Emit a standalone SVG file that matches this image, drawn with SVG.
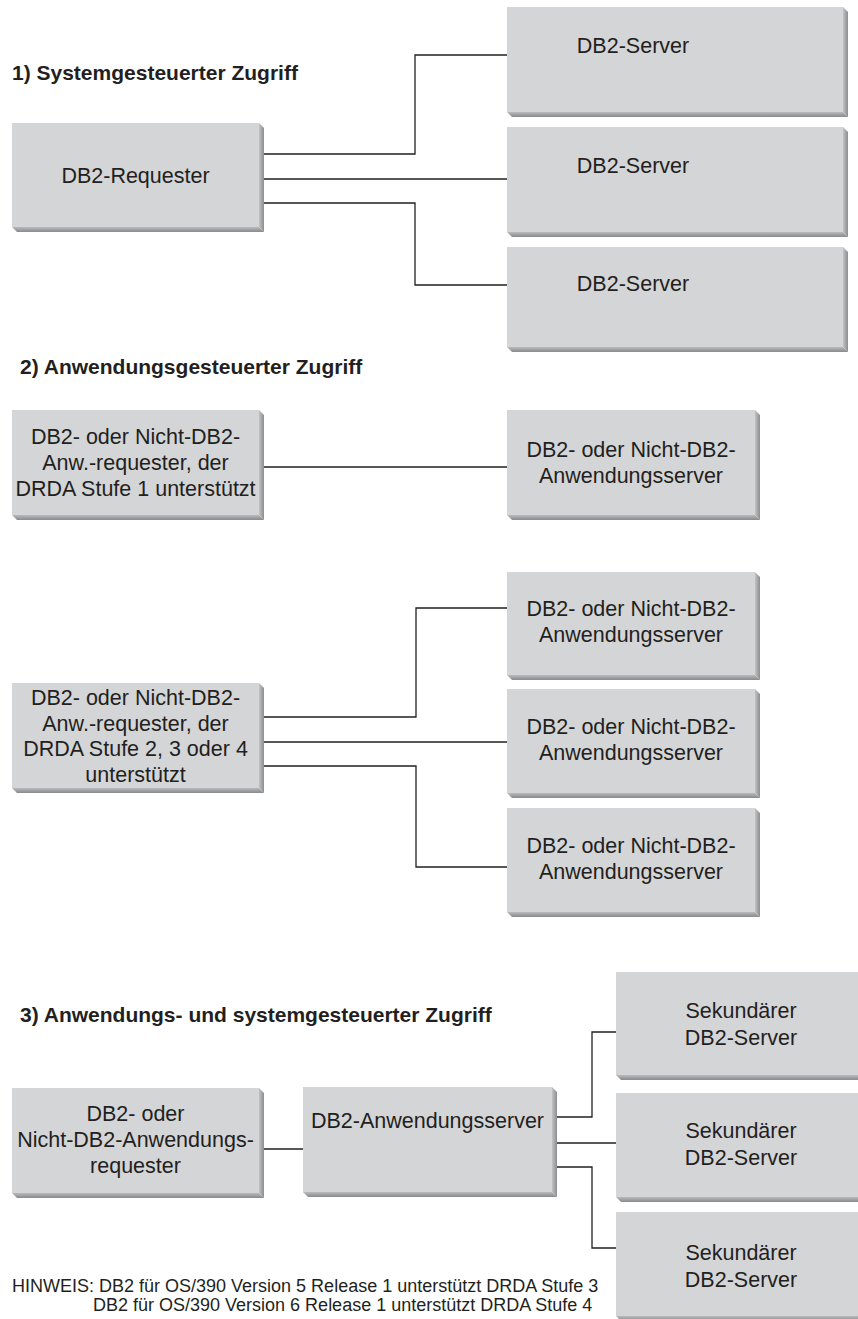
<svg xmlns="http://www.w3.org/2000/svg" width="858" height="1319" viewBox="0 0 858 1319">
<defs>
<linearGradient id="gR" x1="0" y1="0" x2="1" y2="0"><stop offset="0" stop-color="#c2c3c5"/><stop offset="1" stop-color="#8c8d8f"/></linearGradient>
<linearGradient id="gB" x1="0" y1="0" x2="0" y2="1"><stop offset="0" stop-color="#b9babc"/><stop offset="1" stop-color="#88898b"/></linearGradient>
<style>
.face{fill:#d4d5d7}
.bevR{fill:url(#gR)}
.bevB{fill:url(#gB)}
.t{font-family:"Liberation Sans",Arial,sans-serif;font-size:21.5px;fill:#231f20;text-anchor:middle}
.title{font-family:"Liberation Sans",Arial,sans-serif;font-size:21px;font-weight:bold;fill:#231f20}
.note{font-family:"Liberation Sans",Arial,sans-serif;font-size:18px;fill:#231f20}
.conn path{fill:none;stroke:#231f20;stroke-width:1.3}
</style>
</defs>
<rect width="858" height="1319" fill="#ffffff"/>

<text class="title" x="12" y="80">1) Systemgesteuerter Zugriff</text>
<text class="title" x="20" y="374">2) Anwendungsgesteuerter Zugriff</text>
<text class="title" x="20" y="1022">3) Anwendungs- und systemgesteuerter Zugriff</text>

<g class="conn" id="connectors">
<path d="M264,154 H415 V55 H507"/>
<path d="M264,179 H507"/>
<path d="M264,203 H415 V285 H507"/>
<path d="M264,467 H507"/>
<path d="M264,717 H416 V608 H507"/>
<path d="M264,742 H507"/>
<path d="M264,766 H416 V867 H507"/>
<path d="M264,1149 H303"/>
<path d="M557,1117 H592 V1032 H616"/>
<path d="M557,1143 H616"/>
<path d="M557,1167 H592 V1248 H616"/>
</g>

<g id="req1">
<polygon class="bevR" points="259,123 264,128 264,232 259,227"/>
<polygon class="bevB" points="12,227 259,227 264,232 17,232"/>
<rect class="face" x="12" y="123" width="247" height="104"/>
<text class="t" x="135.5" y="183">DB2-Requester</text>
</g>
<g id="srv1a">
<polygon class="bevR" points="843,7 848,12 848,117 843,112"/>
<polygon class="bevB" points="507,112 843,112 848,117 512,117"/>
<rect class="face" x="507" y="7" width="336" height="105"/>
<text class="t" x="633" y="53">DB2-Server</text>
</g>
<g id="srv1b">
<polygon class="bevR" points="843,127 848,132 848,237 843,232"/>
<polygon class="bevB" points="507,232 843,232 848,237 512,237"/>
<rect class="face" x="507" y="127" width="336" height="105"/>
<text class="t" x="633" y="173">DB2-Server</text>
</g>
<g id="srv1c">
<polygon class="bevR" points="843,247 848,252 848,352 843,347"/>
<polygon class="bevB" points="507,347 843,347 848,352 512,352"/>
<rect class="face" x="507" y="247" width="336" height="100"/>
<text class="t" x="633" y="291">DB2-Server</text>
</g>

<g id="req2a">
<polygon class="bevR" points="259,410 264,415 264,520 259,515"/>
<polygon class="bevB" points="12,515 259,515 264,520 17,520"/>
<rect class="face" x="12" y="410" width="247" height="105"/>
<text class="t" x="135.5" y="444">DB2- oder Nicht-DB2-</text>
<text class="t" x="135.5" y="470">Anw.-requester, der</text>
<text class="t" x="135.5" y="496">DRDA Stufe 1 unterstützt</text>
</g>
<g id="srv2a">
<polygon class="bevR" points="755,410 760,415 760,520 755,515"/>
<polygon class="bevB" points="507,515 755,515 760,520 512,520"/>
<rect class="face" x="507" y="410" width="248" height="105"/>
<text class="t" x="631" y="457">DB2- oder Nicht-DB2-</text>
<text class="t" x="631" y="483">Anwendungsserver</text>
</g>

<g id="req2b">
<polygon class="bevR" points="259,683 264,688 264,793 259,788"/>
<polygon class="bevB" points="12,788 259,788 264,793 17,793"/>
<rect class="face" x="12" y="683" width="247" height="105"/>
<text class="t" x="135.5" y="705">DB2- oder Nicht-DB2-</text>
<text class="t" x="135.5" y="731">Anw.-requester, der</text>
<text class="t" x="135.5" y="756">DRDA Stufe 2, 3 oder 4</text>
<text class="t" x="135.5" y="782">unterstützt</text>
</g>
<g id="srv2b1">
<polygon class="bevR" points="755,572 760,577 760,680 755,675"/>
<polygon class="bevB" points="507,675 755,675 760,680 512,680"/>
<rect class="face" x="507" y="572" width="248" height="103"/>
<text class="t" x="631" y="616">DB2- oder Nicht-DB2-</text>
<text class="t" x="631" y="642">Anwendungsserver</text>
</g>
<g id="srv2b2">
<polygon class="bevR" points="755,689 760,694 760,798 755,793"/>
<polygon class="bevB" points="507,793 755,793 760,798 512,798"/>
<rect class="face" x="507" y="689" width="248" height="104"/>
<text class="t" x="631" y="734">DB2- oder Nicht-DB2-</text>
<text class="t" x="631" y="760">Anwendungsserver</text>
</g>
<g id="srv2b3">
<polygon class="bevR" points="755,808 760,813 760,917 755,912"/>
<polygon class="bevB" points="507,912 755,912 760,917 512,917"/>
<rect class="face" x="507" y="808" width="248" height="104"/>
<text class="t" x="631" y="853">DB2- oder Nicht-DB2-</text>
<text class="t" x="631" y="879">Anwendungsserver</text>
</g>

<g id="req3">
<polygon class="bevR" points="259,1088 264,1093 264,1198 259,1193"/>
<polygon class="bevB" points="12,1193 259,1193 264,1198 17,1198"/>
<rect class="face" x="12" y="1088" width="247" height="105"/>
<text class="t" x="135.5" y="1121">DB2- oder</text>
<text class="t" x="135.5" y="1147">Nicht-DB2-Anwendungs-</text>
<text class="t" x="135.5" y="1173">requester</text>
</g>
<g id="app3">
<polygon class="bevR" points="552,1087 557,1092 557,1197 552,1192"/>
<polygon class="bevB" points="303,1192 552,1192 557,1197 308,1197"/>
<rect class="face" x="303" y="1087" width="249" height="105"/>
<text class="t" x="427.5" y="1128">DB2-Anwendungsserver</text>
</g>
<g id="sek1">
<polygon class="bevB" points="616,1075 866,1075 871,1080 621,1080"/>
<rect class="face" x="616" y="972" width="250" height="103"/>
<text class="t" x="741" y="1018">Sekundärer</text>
<text class="t" x="741" y="1045">DB2-Server</text>
</g>
<g id="sek2">
<polygon class="bevB" points="616,1197 866,1197 871,1202 621,1202"/>
<rect class="face" x="616" y="1093" width="250" height="104"/>
<text class="t" x="741" y="1138">Sekundärer</text>
<text class="t" x="741" y="1165">DB2-Server</text>
</g>
<g id="sek3">
<polygon class="bevB" points="616,1316 866,1316 871,1321 621,1321"/>
<rect class="face" x="616" y="1212" width="250" height="104"/>
<text class="t" x="741" y="1260">Sekundärer</text>
<text class="t" x="741" y="1287">DB2-Server</text>
</g>

<text class="note" x="12" y="1292">HINWEIS: DB2 für OS/390 Version 5 Release 1 unterstützt DRDA Stufe 3</text>
<text class="note" x="93" y="1311">DB2 für OS/390 Version 6 Release 1 unterstützt DRDA Stufe 4</text>
</svg>
